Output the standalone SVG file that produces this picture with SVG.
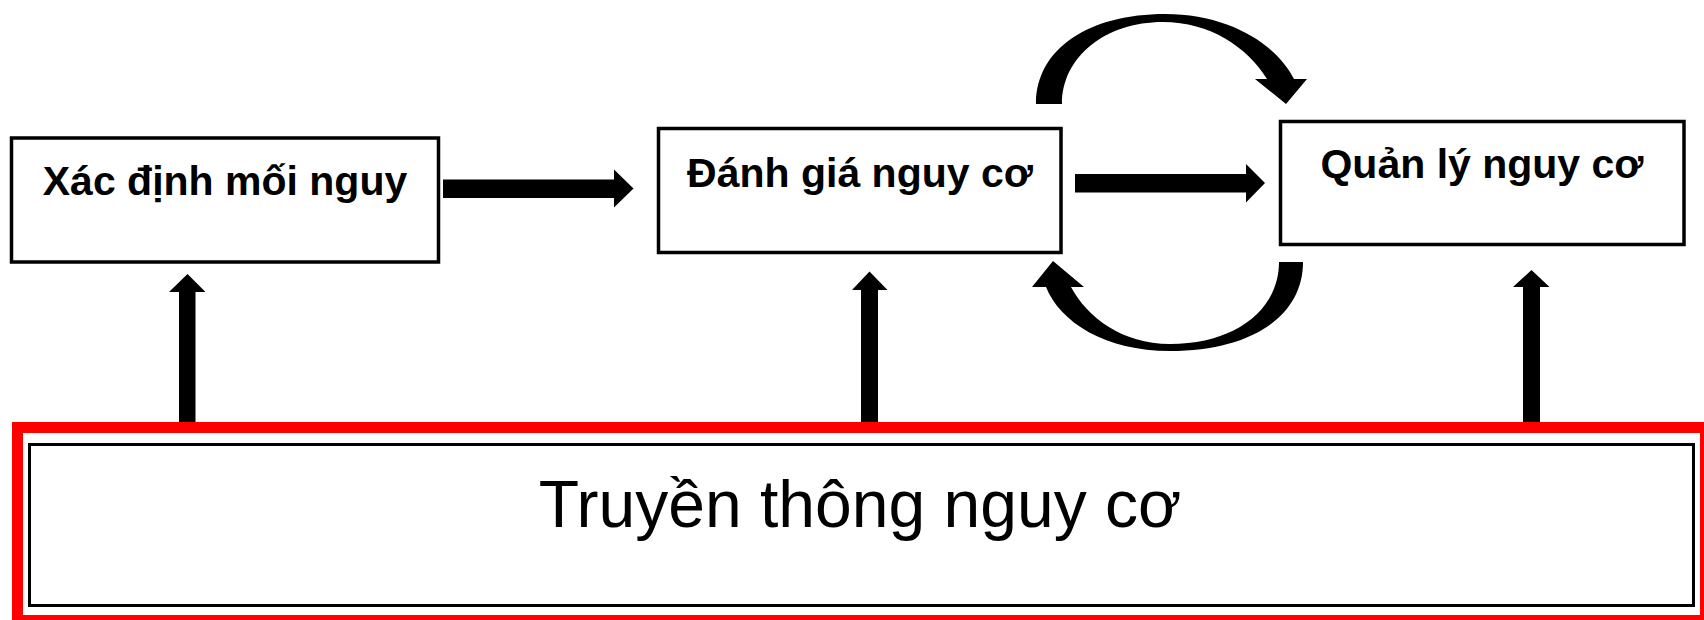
<svg xmlns="http://www.w3.org/2000/svg" width="1704" height="620" viewBox="0 0 1704 620">
<style>
.box{fill:#fff;stroke:#000;stroke-width:3.5}
.lbl{font-family:"Liberation Sans",Arial,sans-serif;font-weight:bold;font-size:41px;fill:#000;text-anchor:middle}
.big{font-family:"Liberation Sans",Arial,sans-serif;font-size:66px;fill:#000;text-anchor:middle}
.arr{fill:#000;stroke:none}
</style>
<rect width="1704" height="620" fill="#fff"/>
<g id="connectors">
<path class="arr" d="M443,179.5 L614,179.5 L614,169.5 L633.5,188.5 L614,207.5 L614,198 L443,198 Z"/>
<path class="arr" d="M1075,174 L1246,174 L1246,164 L1265,183 L1246,202.5 L1246,192.5 L1075,192.5 Z"/>
<path class="arr" d="M1036,104 C1036,48 1090,14 1165,14 C1230,14 1277,45 1294,79 L1307,79 L1286,104 L1255,79 L1267,79 C1247,47 1210,22 1163,22 C1105,22 1062,57 1062,104 Z"/>
<path class="arr" d="M1303,262 C1303,317 1250,351 1170,351 C1105,351 1060,322 1046,287 L1032,287 L1053,261 L1084,287 L1071,287 C1087,317 1122,344 1170,344 C1235,344 1279,310 1279,262 Z"/>
<path class="arr" d="M179,424 L179,292 L169,292 L187.5,274 L205.5,292 L195.5,292 L195.5,424 Z"/>
<path class="arr" d="M861,424 L861,290 L852,290 L869.5,271.5 L887.5,290 L878,290 L878,424 Z"/>
<path class="arr" d="M1523,424 L1523,287 L1513,287 L1531.5,270 L1549.5,287 L1540,287 L1540,424 Z"/>
</g>
<g id="node-xac-dinh">
<rect class="box" x="11.5" y="138" width="427" height="124"/>
<text class="lbl" x="225" y="195">Xác định mối nguy</text>
</g>
<g id="node-danh-gia">
<rect class="box" x="658.5" y="128.5" width="402.5" height="124"/>
<text class="lbl" x="860" y="187">Đánh giá nguy cơ</text>
</g>
<g id="node-quan-ly">
<rect class="box" x="1280.5" y="121.5" width="403.5" height="123"/>
<text class="lbl" x="1482" y="178">Quản lý nguy cơ</text>
</g>
<g id="node-truyen-thong">
<rect x="17.5" y="427.5" width="1688" height="193" fill="#fff" stroke="#ff0000" stroke-width="11"/>
<rect x="29.5" y="444.5" width="1664" height="161" fill="none" stroke="#000" stroke-width="3"/>
<text class="big" x="860" y="527">Truyền thông nguy cơ</text>
</g>
</svg>
